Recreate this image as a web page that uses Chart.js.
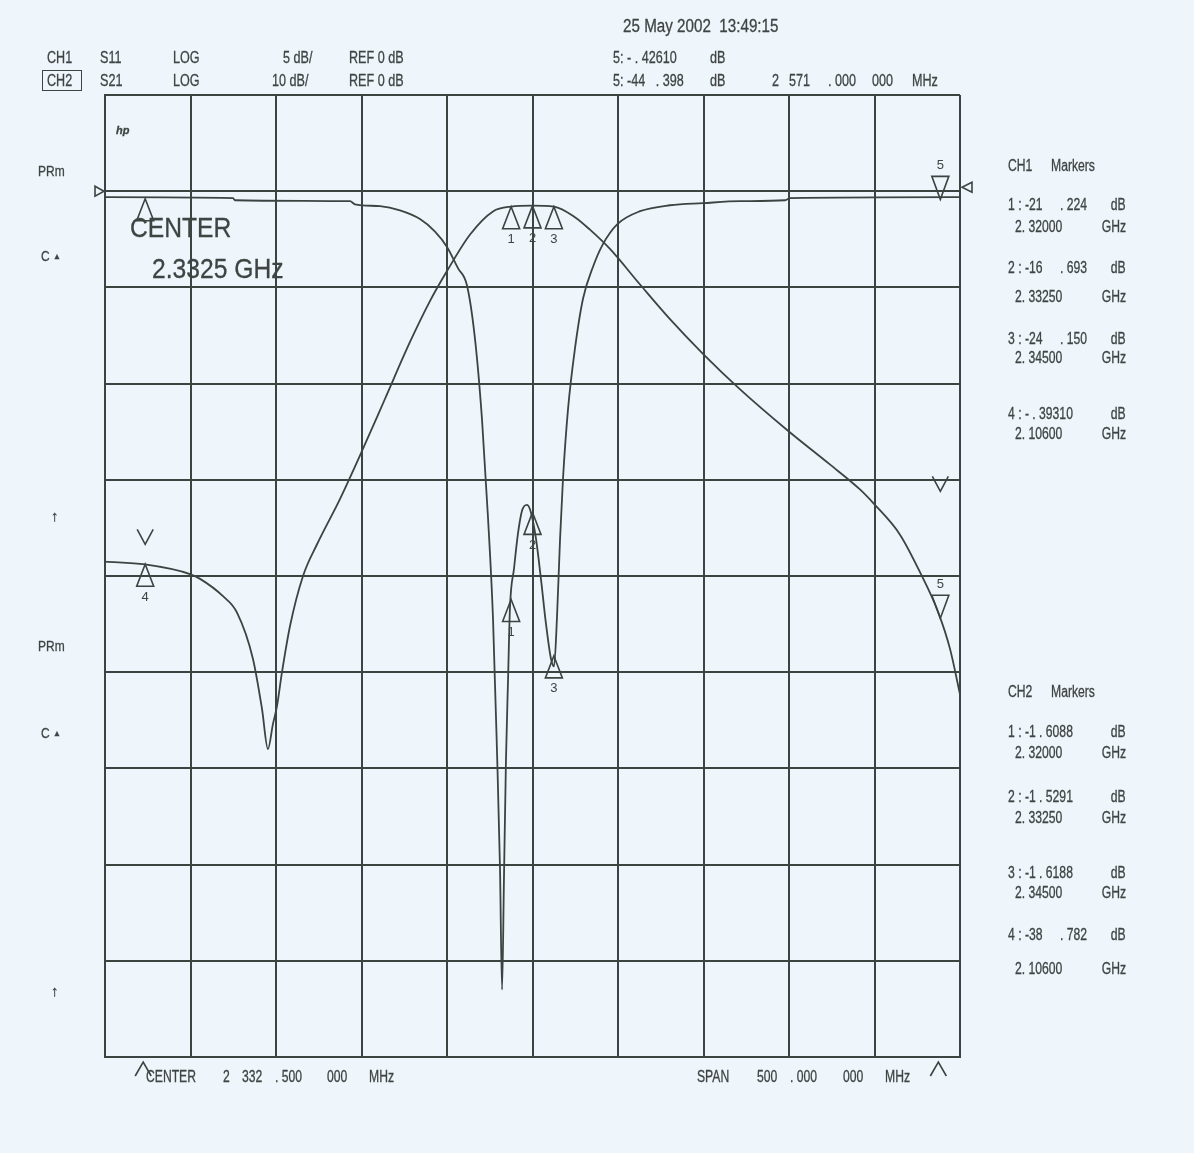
<!DOCTYPE html>
<html>
<head>
<meta charset="utf-8">
<script src="https://cdn.jsdelivr.net/npm/chart.js@4.4.1/dist/chart.umd.min.js"></script>
<style>
  body { margin: 0; background: #eef5fb; }
  #sheet { position: relative; width: 1194px; height: 1153px; overflow: hidden;
           font-family: "Liberation Sans", Arial, sans-serif; color: #3f4443; }
  #plot { position: absolute; left: 0; top: 0; }
  .t { position: absolute; white-space: pre; line-height: 1; transform-origin: 0 50%;
       -webkit-text-stroke: 0.3px #3f4443; }
  .box { position: absolute; border: 1.5px solid #3f4443; }
</style>
</head>
<body>
<div id="sheet">
  <canvas id="plot" width="1194" height="1153"></canvas>
</div>
<script>
// === Sweep settings (HP network analyser printout)
const centerMHz = 2332.5;
const spanMHz = 500;

// === CH1: S11, log mag, 5 dB/div, ref 0 dB
const s11Freq = [2082.5, 2157.4, 2158.5, 2225.8, 2228.7, 2243.3, 2255, 2266.7, 2275.5, 2282.5,
  2288.9, 2294.2, 2298.9, 2303, 2306.5, 2309.4, 2311.7, 2313.5, 2314.7, 2315.8, 2317, 2318.2,
  2319.3, 2321.7, 2324, 2326.4, 2329.3, 2331.6, 2334.6, 2337.5, 2340.4, 2343.3, 2345.1, 2346.8,
  2348.6, 2350.3, 2353.3, 2357.3, 2362, 2368, 2373.7, 2382, 2395.4, 2412.9, 2432.2, 2453.9,
  2480.2, 2483.1, 2582.5];
const s11Db = [-0.31, -0.36, -0.47, -0.52, -0.68, -0.78, -1.0, -1.45, -2.1, -2.9,
  -4.0, -4.9, -7.7, -11.9, -17.0, -22.2, -29.0, -35.2, -41.5, -35.8, -29.5, -25.4,
  -21.7, -19.6, -17.8, -16.6, -16.3, -16.7, -18.1, -20.2, -22.5, -24.3, -24.7, -22.2,
  -18.1, -15.0, -11.3, -8.2, -5.6, -3.9, -2.75, -1.72, -1.04, -0.73, -0.62, -0.52,
  -0.47, -0.36, -0.31];

// === CH2: S21, log mag, 10 dB/div, ref 0 dB
const s21Freq = [2082.5, 2105.9, 2132.2, 2138.1, 2151.5, 2159.7, 2169, 2174.3, 2177.8, 2180.7,
  2183.1, 2186, 2190.7, 2198.3, 2206.5, 2219.9, 2232.8, 2246.2, 2260.8, 2272.6, 2282.5, 2296,
  2309.4, 2320, 2332.2, 2345.1, 2357.3, 2366.1, 2377.8, 2395.4, 2412.9, 2432.2, 2453.9, 2481.9,
  2506.4, 2524, 2532.2, 2547.4, 2559.1, 2569.6, 2576.7, 2582.5];
const s21Db = [-38.5, -38.8, -39.8, -40.3, -42.1, -43.8, -48.6, -53.8, -58.0, -55.4,
  -53.5, -50.0, -45.2, -40.0, -36.7, -32.0, -27.0, -21.6, -15.7, -11.4, -8.3, -4.5,
  -2.1, -1.6, -1.5, -1.6, -2.7, -4.0, -6.0, -9.7, -13.3, -16.9, -20.6, -24.9,
  -28.4, -31.0, -32.5, -35.7, -39.6, -43.7, -47.6, -52.3];

// === Markers
const markerNames = ["1", "2", "3", "4", "5"];
const markerFreq = [2320, 2332.5, 2345, 2106, 2571];
const ch1MarkerDb = [-21.224, -16.693, -24.150, -0.3931, -0.4261];
const ch2MarkerDb = [-1.6088, -1.5291, -1.6188, -38.782, -44.398];
const refMarkDb = [-36.7, -31.2]; // open "v" above marker 4 and marker 5 (CH2 scale)

const ink = "#3a4542";
const startMHz = centerMHz - spanMHz / 2;
const stopMHz = centerMHz + spanMHz / 2;

// === Texts round the graticule
const sheet = document.getElementById("sheet");
function put(text, x, y, size, sx, extra) {
  const d = document.createElement("div");
  d.className = "t";
  d.textContent = text;
  d.style.left = x + "px";
  d.style.top = (y - size / 2) + "px";
  d.style.fontSize = size + "px";
  d.style.transform = "scaleX(" + sx + ")";
  if (extra) Object.assign(d.style, extra);
  sheet.appendChild(d);
}
const H = 17, HS = 0.74;
put("25 May 2002  13:49:15", 623, 25, 19, 0.8);
put("CH1", 47, 57, H, HS); put("S11", 100, 57, H, HS); put("LOG", 173, 57, H, HS);
put("5 dB/", 283, 57, H, HS); put("REF 0 dB", 349, 57, H, HS);
put("CH2", 47, 80, H, HS); put("S21", 100, 80, H, HS); put("LOG", 173, 80, H, HS);
put("10 dB/", 272, 80, H, HS); put("REF 0 dB", 349, 80, H, HS);
const b = document.createElement("div");
b.className = "box";
Object.assign(b.style, { left: "42px", top: "70px", width: "38px", height: "19px" });
sheet.appendChild(b);
put("5: - . 42610", 613, 57, H, HS); put("dB", 710, 57, H, HS);
put("5: -44   . 398", 613, 80, H, HS); put("dB", 710, 80, H, HS);
put("2", 772, 80, H, HS); put("571", 789, 80, H, HS); put(". 000", 828, 80, H, HS);
put("000", 872, 80, H, HS); put("MHz", 912, 80, H, HS);

put("hp", 116, 130, 11, 1, { fontWeight: "bold", fontStyle: "italic" });
put("CENTER", 130, 228, 28, 0.88);
put("2.3325 GHz", 152, 269, 28, 0.88);

put("PRm", 38, 170, 15, 0.8); put("C", 41, 255, 15, 0.8); put("\u25B2", 53, 257, 8, 1);
put("\u2191", 51, 515, 15, 1, { fontWeight: "bold" });
put("PRm", 38, 645, 15, 0.8); put("C", 41, 732, 15, 0.8); put("\u25B2", 53, 734, 8, 1);
put("\u2191", 51, 990, 15, 1, { fontWeight: "bold" });

const M = 16, MS = 0.76;
function rightAt(text, xr, y) {
  // right-aligned unit column
  const d = document.createElement("div");
  d.className = "t";
  d.textContent = text;
  d.style.right = (1194 - xr) + "px";
  d.style.top = (y - M / 2) + "px";
  d.style.fontSize = M + "px";
  d.style.transformOrigin = "100% 50%";
  d.style.transform = "scaleX(" + MS + ")";
  sheet.appendChild(d);
}
put("CH1", 1008, 166, M, MS); put("Markers", 1051, 166, M, MS);
put("1 : -21", 1008, 205, M, MS); put(". 224", 1060, 205, M, MS); rightAt("dB", 1126, 205);
put("2. 32000", 1015, 227, M, MS); rightAt("GHz", 1126, 227);
put("2 : -16", 1008, 268, M, MS); put(". 693", 1060, 268, M, MS); rightAt("dB", 1126, 268);
put("2. 33250", 1015, 297, M, MS); rightAt("GHz", 1126, 297);
put("3 : -24", 1008, 339, M, MS); put(". 150", 1060, 339, M, MS); rightAt("dB", 1126, 339);
put("2. 34500", 1015, 358, M, MS); rightAt("GHz", 1126, 358);
put("4 : - . 39310", 1008, 414, M, MS); rightAt("dB", 1126, 414);
put("2. 10600", 1015, 434, M, MS); rightAt("GHz", 1126, 434);

put("CH2", 1008, 692, M, MS); put("Markers", 1051, 692, M, MS);
put("1 : -1 . 6088", 1008, 732, M, MS); rightAt("dB", 1126, 732);
put("2. 32000", 1015, 753, M, MS); rightAt("GHz", 1126, 753);
put("2 : -1 . 5291", 1008, 797, M, MS); rightAt("dB", 1126, 797);
put("2. 33250", 1015, 818, M, MS); rightAt("GHz", 1126, 818);
put("3 : -1 . 6188", 1008, 873, M, MS); rightAt("dB", 1126, 873);
put("2. 34500", 1015, 893, M, MS); rightAt("GHz", 1126, 893);
put("4 : -38", 1008, 935, M, MS); put(". 782", 1060, 935, M, MS); rightAt("dB", 1126, 935);
put("2. 10600", 1015, 969, M, MS); rightAt("GHz", 1126, 969);

put("CENTER", 146, 1077, M, MS); put("2", 223, 1077, M, MS); put("332", 242, 1077, M, MS);
put(". 500", 275, 1077, M, MS); put("000", 327, 1077, M, MS); put("MHz", 369, 1077, M, MS);
put("SPAN", 697, 1077, M, MS); put("500", 757, 1077, M, MS); put(". 000", 790, 1077, M, MS);
put("000", 843, 1077, M, MS); put("MHz", 885, 1077, M, MS);

// === Marker symbols drawn on the chart scales
const markerPlugin = {
  id: "markers",
  afterDatasetsDraw(chart) {
    const { ctx, chartArea, scales } = chart;
    const x = scales.x, y1 = scales.y1, y2 = scales.y2;
    ctx.save();
    ctx.strokeStyle = ink;
    ctx.fillStyle = "#3f4443";
    ctx.lineWidth = 1.6;
    ctx.font = "13px 'Liberation Sans', Arial, sans-serif";
    ctx.textAlign = "center";
    ctx.textBaseline = "middle";

    function tri(px, py, down) {
      const h = down ? -23 : 22;
      ctx.beginPath();
      ctx.moveTo(px, py);
      ctx.lineTo(px - 8.5, py + h);
      ctx.lineTo(px + 8.5, py + h);
      ctx.closePath();
      ctx.stroke();
    }
    function chevron(px, top, bottom, up) {
      ctx.beginPath();
      if (up) {
        ctx.moveTo(px - 8, bottom); ctx.lineTo(px, top); ctx.lineTo(px + 8, bottom);
      } else {
        ctx.moveTo(px - 8, top); ctx.lineTo(px, bottom); ctx.lineTo(px + 8, top);
      }
      ctx.stroke();
    }

    markerFreq.forEach((f, i) => {
      const px = x.getPixelForValue(f);
      const down = markerNames[i] === "5";
      [[y1, ch1MarkerDb[i]], [y2, ch2MarkerDb[i]]].forEach(([sc, db], k) => {
        const py = sc.getPixelForValue(db);
        tri(px, py, down);
        if (k === 0 && markerNames[i] === "4") return; // hidden under CENTER text
        ctx.fillText(markerNames[i], px, down ? py - 34 : py + 33);
      });
    });

    // open "v" symbols and the stimulus carets under the graticule
    [3, 4].forEach((i, k) => {
      const px = x.getPixelForValue(markerFreq[i]);
      const bottom = y2.getPixelForValue(refMarkDb[k]);
      chevron(px, bottom - 15, bottom, false);
      chevron(px - 2, chartArea.bottom + 5, chartArea.bottom + 19, true);
    });

    // reference position arrows at 0 dB
    const yr = y2.getPixelForValue(0);
    ctx.beginPath();
    ctx.moveTo(chartArea.left - 10, yr - 5);
    ctx.lineTo(chartArea.left - 1, yr);
    ctx.lineTo(chartArea.left - 10, yr + 5);
    ctx.closePath();
    ctx.stroke();
    ctx.beginPath();
    ctx.moveTo(chartArea.right + 12, yr - 9);
    ctx.lineTo(chartArea.right + 2, yr - 4);
    ctx.lineTo(chartArea.right + 12, yr + 1);
    ctx.closePath();
    ctx.stroke();
    ctx.restore();
  }
};

const gridStyle = { color: ink, lineWidth: 2, drawTicks: false };
const ctx = document.getElementById("plot").getContext("2d");
new Chart(ctx, {
  type: "line",
  data: {
    datasets: [
      {
        label: "S11",
        data: s11Freq.map((f, i) => ({ x: f, y: s11Db[i] })),
        yAxisID: "y1",
        borderColor: ink,
        borderWidth: 1.8,
        pointRadius: 0,
        cubicInterpolationMode: "monotone"
      },
      {
        label: "S21",
        data: s21Freq.map((f, i) => ({ x: f, y: s21Db[i] })),
        yAxisID: "y2",
        borderColor: ink,
        borderWidth: 1.8,
        pointRadius: 0,
        cubicInterpolationMode: "monotone"
      }
    ]
  },
  options: {
    responsive: false,
    animation: false,
    layout: { padding: { left: 105, top: 95, right: 234, bottom: 96 } },
    plugins: { legend: { display: false }, tooltip: { enabled: false } },
    scales: {
      x: {
        type: "linear",
        min: startMHz,
        max: stopMHz,
        ticks: { display: false },
        afterBuildTicks: (s) => {
          const t = [];
          for (let i = 0; i <= 10; i++) t.push({ value: startMHz + i * spanMHz / 10 });
          s.ticks = t;
        },
        grid: gridStyle,
        border: { color: ink, width: 2 }
      },
      y2: {
        position: "left",
        min: -90,
        max: 10,
        ticks: { display: false, stepSize: 10 },
        grid: gridStyle,
        border: { color: ink, width: 2 }
      },
      y1: { display: false, min: -45, max: 5 }
    }
  },
  plugins: [markerPlugin]
});
</script>
</body>
</html>
